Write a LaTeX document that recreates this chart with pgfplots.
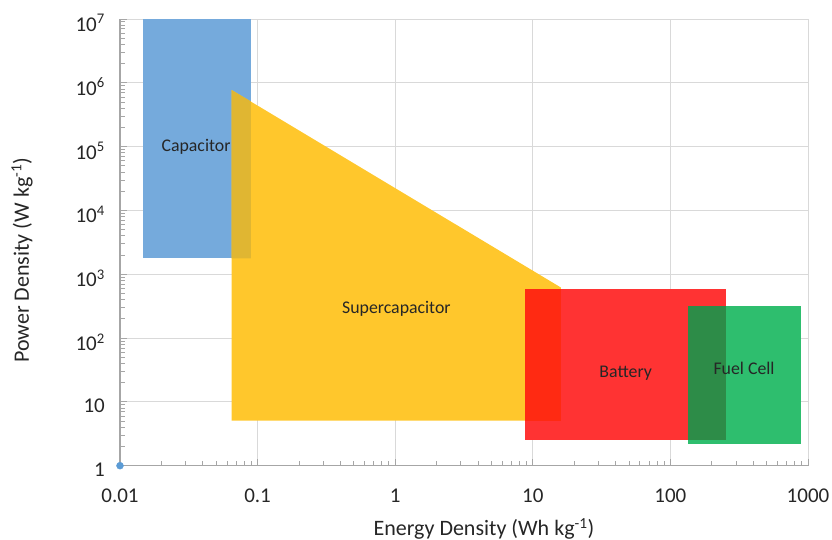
\documentclass[border=0pt]{standalone}
\usepackage{pgfplots}
\pgfplotsset{compat=1.18}
\usepackage{fontspec}
\setmainfont{Carlito}
\definecolor{capblue}{HTML}{75AADC}
\definecolor{supyel}{HTML}{FFC72C}
\definecolor{ovl1}{HTML}{E0B632}
\definecolor{batred}{HTML}{FF3333}
\definecolor{ovl2}{HTML}{FF2A12}
\definecolor{fcgreen}{HTML}{2EBE6E}
\definecolor{ovl3}{HTML}{2D8C48}
\definecolor{gridgray}{HTML}{D9D9D9}
\definecolor{axgray}{HTML}{A6A6A6}
\definecolor{txt}{HTML}{262626}
\definecolor{dotblue}{HTML}{5B9BD5}
\begin{document}
\begin{tikzpicture}
\begin{axis}[
  at={(0pt,0pt)}, anchor=south west,
  scale only axis, width=688pt, height=446.7pt,
  xmode=log, ymode=log,
  xmin=0.01, xmax=1000, ymin=1, ymax=1e7,
  axis x line*=bottom, axis y line*=left,
  axis line style={axgray, line width=1.2pt, -},
  grid=major, major grid style={gridgray, line width=0.9pt},
  minor grid style={draw=none},
  tick style={axgray, line width=0.9pt},
  major tick length=7pt, minor tick length=5pt,
  tick align=inside,
  xtick={0.01,0.1,1,10,100,1000},
  xticklabels={0.01,0.1,1,10,100,1000},
  ytick={1,10,100,1000,1e4,1e5,1e6,1e7},
  yticklabels={1,10,10\textsuperscript{2},10\textsuperscript{3},10\textsuperscript{4},10\textsuperscript{5},10\textsuperscript{6},10\textsuperscript{7}},
  xticklabel style={font=\fontsize{21}{24}\selectfont, text=txt, inner sep=0pt, anchor=north, yshift=-23pt},
  yticklabel style={font=\fontsize{21}{24}\selectfont, text=txt, inner sep=0pt, anchor=east, xshift=-15pt, yshift=-4pt},
  xlabel={Energy Density (Wh kg\textsuperscript{-1})},
  ylabel={Power Density (W kg\textsuperscript{-1})},
  label style={font=\fontsize{22}{26}\selectfont, text=txt},
  xlabel style={at={(axis description cs:0.529,0)}, anchor=center, yshift=-63pt},
  ylabel style={at={(axis description cs:0,0.46)}, anchor=center, yshift=98pt},
  clip=false,
]
% Capacitor
\addplot[fill=capblue, draw=none] coordinates {(0.0148,1780) (0.0895,1780) (0.0895,1e7) (0.0148,1e7)};
% Supercapacitor
\addplot[fill=supyel, draw=none] coordinates {(0.0648,5.07) (16.0,5.07) (16.0,620) (0.0648,7.7e5)};
% overlap capacitor / supercapacitor
\addplot[fill=ovl1, draw=none] coordinates {(0.0648,1780) (0.0895,1780) (0.0895,5.1e5) (0.0648,7.7e5)};
% Battery
\addplot[fill=batred, draw=none] coordinates {(8.78,2.57) (253.5,2.57) (253.5,590) (8.78,590)};
% overlap battery / supercapacitor
\addplot[fill=ovl2, draw=none] coordinates {(8.78,5.07) (16.0,5.07) (16.0,590) (8.78,590)};
% Fuel cell
\addplot[fill=fcgreen, draw=none] coordinates {(134,2.19) (885,2.19) (885,318) (134,318)};
% overlap fuel cell / battery
\addplot[fill=ovl3, draw=none] coordinates {(134,2.57) (253.5,2.57) (253.5,318) (134,318)};
% origin marker
\addplot[only marks, mark=*, mark size=3.5pt, color=dotblue] coordinates {(0.01,1)};
\node[font=\fontsize{17.8}{20}\selectfont, text=txt] at (axis cs:0.0357,1.0e5) {Capacitor};
\node[font=\fontsize{17.8}{20}\selectfont, text=txt] at (axis cs:1.02,289) {Supercapacitor};
\node[font=\fontsize{17.8}{20}\selectfont, text=txt] at (axis cs:47.3,27.7) {Battery};
\node[font=\fontsize{17.8}{20}\selectfont, text=txt] at (axis cs:343,33.3) {Fuel Cell};
\end{axis}
\pgfresetboundingbox
\path[use as bounding box] (-120pt,-74.3pt) rectangle (712pt,465.7pt);
\end{tikzpicture}
\end{document}
